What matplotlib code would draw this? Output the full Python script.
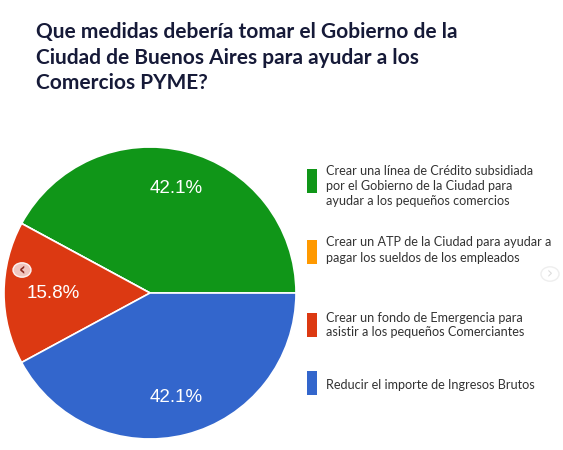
import matplotlib
matplotlib.use("Agg")
import matplotlib.pyplot as plt
import matplotlib.patches as mpatches

# respuestas (19 en total)
labels = [
    "Crear una línea de Crédito subsidiada\npor el Gobierno de la Ciudad para\nayudar a los pequeños comercios",
    "Crear un ATP de la Ciudad para ayudar a\npagar los sueldos de los empleados",
    "Crear un fondo de Emergencia para\nasistir a los pequeños Comerciantes",
    "Reducir el importe de Ingresos Brutos",
]
counts = [8, 0, 3, 8]
colors = ["#109618", "#ff9900", "#dc3912", "#3366cc"]

title = "Que medidas debería tomar el Gobierno de la\nCiudad de Buenos Aires para ayudar a los\nComercios PYME?"

W, H = 563, 450
fig = plt.figure(figsize=(W / 100, H / 100), dpi=100)
fig.patch.set_facecolor("white")

# pie centred at (150, 293) px, radius ~146 px
cx, cy, R = 150, 293, 146
half = 150
ax = fig.add_axes([(cx - half) / W, (H - cy - half) / H, 2 * half / W, 2 * half / H])

def pct(p):
    return "%.1f%%" % p if p > 0.5 else ""

wedges, texts, autotexts = ax.pie(
    counts, colors=colors, startangle=0, counterclock=True,
    autopct=pct, pctdistance=0.74,
    wedgeprops=dict(edgecolor="white", linewidth=1.2),
    textprops=dict(color="white", fontsize=13.5, family="Liberation Sans"),
)
# the small slice label sits a bit closer to the centre
x, y = autotexts[2].get_position()
autotexts[2].set_position((x * 0.9, y))

lim = half / R
ax.set_xlim(-lim, lim)
ax.set_ylim(-lim, lim)
ax.set_aspect("equal")
ax.axis("off")

# title
fig.text(36 / W, 1 - 22 / H, title, ha="left", va="top", fontsize=15.0,
         fontweight="bold", family="Lato", color="#161a38", linespacing=1.35)

# legend (manual, Google Forms style)
text_rows = [186, 250, 325, 385]
box_rows = [181, 252, 325, 383]
for lab, col, yt, yb in zip(labels, colors, text_rows, box_rows):
    hbox = 24
    fig.patches.append(mpatches.Rectangle(
        (307 / W, 1 - (yb + hbox / 2) / H), 10 / W, hbox / H,
        transform=fig.transFigure, facecolor=col, edgecolor="none"))
    fig.text(326 / W, 1 - yt / H, lab, ha="left", va="center", fontsize=9.1,
             family="Lato", color="#333333", linespacing=1.3)

# carousel arrows from the screenshot
fig.patches.append(mpatches.Circle((22 / W, 1 - 270 / H), 9 / W, transform=fig.transFigure,
                                   facecolor="#f3d6d3", edgecolor="#ffffff", alpha=0.9))
fig.text(22 / W, 1 - 270 / H, "‹", ha="center", va="center", fontsize=12,
         color="#8a2a20", family="DejaVu Sans", fontweight="bold")
fig.patches.append(mpatches.Circle((550 / W, 1 - 274 / H), 9 / W, transform=fig.transFigure,
                                   facecolor="white", edgecolor="#eeeeee"))
fig.text(550 / W, 1 - 274 / H, "›", ha="center", va="center", fontsize=11,
         color="#dddddd", family="DejaVu Sans")

fig.savefig("out.png", dpi=100)
